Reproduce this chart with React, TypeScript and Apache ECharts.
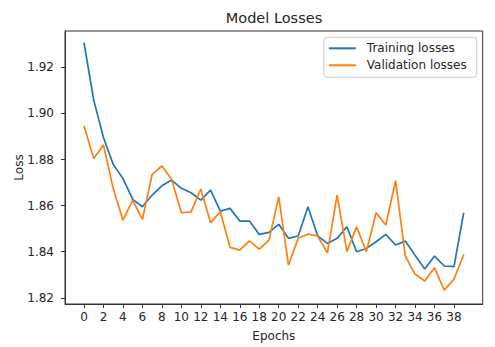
import React, { useEffect, useRef } from "react";
import * as echarts from "echarts";

const epochs: number[] = Array.from({ length: 40 }, (_, i) => i);
const trainingLosses: number[] = [
  1.9307, 1.9058, 1.8896, 1.8779, 1.8718, 1.8627, 1.8595, 1.8646, 1.8686, 1.8711,
  1.8675, 1.8656, 1.8624, 1.8667, 1.8576, 1.8588, 1.8533, 1.8533, 1.8475, 1.8484,
  1.8519, 1.8458, 1.8468, 1.8595, 1.8469, 1.8436, 1.8458, 1.8508, 1.8400, 1.8414,
  1.8443, 1.8475, 1.8429, 1.8446, 1.8385, 1.8325, 1.8381, 1.8338, 1.8335, 1.8569,
];
const validationLosses: number[] = [
  1.8947, 1.8805, 1.8863, 1.8675, 1.8537, 1.8624, 1.8540, 1.8736, 1.8772, 1.8714,
  1.8569, 1.8573, 1.8672, 1.8526, 1.8573, 1.8419, 1.8407, 1.8447, 1.8411, 1.8450,
  1.8638, 1.8342, 1.8458, 1.8476, 1.8468, 1.8395, 1.8646, 1.8400, 1.8508, 1.8400,
  1.8569, 1.8516, 1.8708, 1.8381, 1.8303, 1.8273, 1.8330, 1.8233, 1.8281, 1.8388,
];
const xTicks: number[] = [0, 2, 4, 6, 8, 10, 12, 14, 16, 18, 20, 22, 24, 26, 28, 30, 32, 34, 36, 38];
const yTicks: number[] = [1.82, 1.84, 1.86, 1.88, 1.9, 1.92];

const FONT = "DejaVu Sans";
const TXT = "#262626";

export default function App() {
  const ref = useRef<HTMLDivElement>(null);
  useEffect(() => {
    document.body.style.margin = "0";
    if (!ref.current) return;
    const chart = echarts.init(ref.current, undefined, { renderer: "svg" });
    chart.setOption({
      animation: false,
      backgroundColor: "#ffffff",
      title: {
        text: "Model Losses",
        left: 274,
        top: 10,
        padding: 0,
        textAlign: "center",
        textStyle: { fontFamily: FONT, fontSize: 14.5, fontWeight: "normal", color: TXT },
      },
      legend: {
        orient: "vertical",
        right: 18.3,
        top: 37.3,
        padding: [5, 10, 6, 5],
        itemGap: 5,
        itemWidth: 27,
        itemHeight: 2,
        icon: "rect",
        borderColor: "#cccccc",
        borderWidth: 1,
        borderRadius: 3,
        backgroundColor: "rgba(255,255,255,0.8)",
        textStyle: { fontFamily: FONT, fontSize: 12, color: TXT, padding: [0, 0, 0, 6] },
        data: ["Training losses", "Validation losses"],
      },
      grid: {
        left: 65,
        right: 12.3,
        top: 31,
        bottom: 43,
        outerBoundsMode: "none",
        containLabel: false,
        show: true,
        borderColor: "#333333",
        borderWidth: 1,
        backgroundColor: "transparent",
      },
      xAxis: {
        type: "value",
        min: -1.95,
        max: 40.95,
        name: "Epochs",
        nameLocation: "middle",
        nameGap: 26,
        nameMoveOverlap: false,
        nameTextStyle: { fontFamily: FONT, fontSize: 12, color: TXT },
        axisLine: { show: true, onZero: false, lineStyle: { color: "#333333", width: 1 } },
        axisTick: { show: true, length: 4, customValues: xTicks, lineStyle: { color: "#333333" } },
        axisLabel: {
          customValues: xTicks,
          margin: 7,
          fontFamily: FONT,
          fontSize: 12,
          color: TXT,
        },
        splitLine: { show: false },
      },
      yAxis: {
        type: "value",
        min: 1.8173,
        max: 1.9358,
        name: "Loss",
        nameLocation: "middle",
        nameRotate: 90,
        nameGap: 40,
        nameMoveOverlap: false,
        nameTextStyle: { fontFamily: FONT, fontSize: 12, color: TXT },
        axisLine: { show: true, onZero: false, lineStyle: { color: "#333333", width: 1 } },
        axisTick: { show: true, length: 4, customValues: yTicks, lineStyle: { color: "#333333" } },
        axisLabel: {
          customValues: yTicks,
          margin: 11,
          fontFamily: FONT,
          fontSize: 12,
          color: TXT,
          formatter: (v: number) => v.toFixed(2),
        },
        splitLine: { show: false },
      },
      series: [
        {
          name: "Training losses",
          type: "line",
          data: epochs.map((e, i) => [e, trainingLosses[i]]),
          symbol: "none",
          lineStyle: { color: "#1f77b4", width: 1.7 },
          itemStyle: { color: "#1f77b4" },
        },
        {
          name: "Validation losses",
          type: "line",
          data: epochs.map((e, i) => [e, validationLosses[i]]),
          symbol: "none",
          lineStyle: { color: "#ff7f0e", width: 1.7 },
          itemStyle: { color: "#ff7f0e" },
        },
      ],
    });
    return () => chart.dispose();
  }, []);
  return <div ref={ref} style={{ width: 495, height: 347 }} />;
}
